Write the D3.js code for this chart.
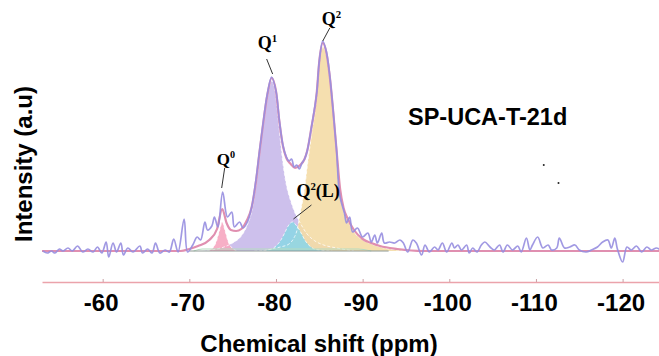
<!DOCTYPE html>
<html>
<head>
<meta charset="utf-8">
<script src="https://cdn.jsdelivr.net/npm/d3@7"></script>
<style>
  html, body { margin: 0; padding: 0; background: #ffffff; }
  svg { display: block; }
</style>
</head>
<body>
<svg id="chart" width="659" height="356"></svg>
<script>
// 29Si NMR spectrum of SP-UCA-T-21d with its deconvolution into Qn sites.
// Chemical shift in ppm, intensity in arbitrary units.

const xTicks = [-60, -70, -80, -90, -100, -110, -120];

// Measured spectrum [ppm, intensity]
const spectrum = [
  [-53.1, 0], [-53.6, -2], [-54.1, 0], [-54.5, -2], [-55.0, 2], [-55.4, 0], [-56.0, 3], [-56.5, 0],
  [-57.1, 5], [-57.7, -1], [-58.3, 2], [-58.9, -1], [-59.4, 4], [-59.9, -2], [-60.4, 9], [-60.7, -6],
  [-61.2, 8], [-61.6, -1], [-62.1, 8], [-62.4, -4], [-62.9, 3], [-63.5, -1], [-64.3, 5], [-64.6, -2],
  [-65.2, 2], [-65.7, -2], [-66.1, 8], [-66.6, -2], [-67.2, 1], [-67.7, -1], [-68.2, 12], [-68.7, -1],
  [-69.4, 32], [-69.8, -1], [-70.4, 6], [-70.9, 14], [-71.3, 11], [-71.8, 29], [-72.1, 21], [-72.6, 25],
  [-72.9, 34], [-73.3, 24], [-73.85, 59], [-74.4, 34], [-74.9, 39], [-75.2, 24], [-75.8, 29], [-76.2, 23],
  [-76.7, 29], [-77.2, 44], [-77.7, 72], [-78.1, 100], [-78.5, 127], [-79.0, 157], [-79.5, 174], [-80.0, 160],
  [-80.4, 130], [-80.8, 106], [-81.2, 94], [-81.5, 90], [-81.8, 92], [-82.1, 84], [-82.4, 86], [-82.7, 82],
  [-83.0, 88], [-83.3, 92], [-83.6, 100], [-84.1, 124], [-84.7, 158], [-85.0, 190], [-85.4, 210], [-85.8, 200],
  [-86.2, 176], [-86.6, 140], [-87.0, 100], [-87.35, 56], [-87.9, 38], [-88.15, 28], [-88.5, 34], [-88.85, 19],
  [-89.4, 23], [-90.0, 14], [-90.6, 18], [-91.0, 9], [-91.4, 16], [-91.7, 8], [-92.2, 18], [-92.5, 8],
  [-93.1, 9], [-93.7, 8], [-94.3, 11], [-94.7, 8], [-95.2, -1], [-95.8, 11], [-96.2, 8], [-96.8, -4],
  [-97.2, 6], [-97.7, -1], [-98.3, 4], [-98.7, 1], [-99.2, 8], [-99.7, -1], [-100.3, 8], [-100.6, 3],
  [-101.0, 6], [-101.4, 1], [-102.0, 6], [-102.3, -2], [-102.7, 3], [-103.2, -1], [-103.7, 6], [-104.1, 9],
  [-104.7, 4], [-105.2, 1], [-105.8, 6], [-106.2, -1], [-106.7, 6], [-107.3, 1], [-107.9, 5], [-108.3, -1],
  [-108.9, 13], [-109.3, 1], [-109.6, 6], [-110.2, 14], [-110.8, 3], [-111.4, 6], [-111.8, 1], [-112.4, 3],
  [-112.7, 13], [-113.3, 3], [-113.9, 4], [-114.5, 6], [-115.0, 1], [-115.8, -1], [-116.4, 1], [-117.1, 4],
  [-117.7, 9], [-118.3, 11], [-118.7, 3], [-119.1, 13], [-119.4, 2], [-120.0, -11], [-120.5, 4], [-121.0, 1],
  [-121.6, 5], [-122.2, -1], [-122.8, 4], [-123.3, 1], [-123.9, 3], [-124.4, 1]
];

// Sum of fitted components [ppm, intensity]
const fitSum = [
  [-53, 0], [-69, 0], [-70, 2], [-71, 5], [-72.3, 11], [-73.2, 22], [-73.8, 42], [-74.3, 28],
  [-74.8, 21], [-75.4, 20], [-76.0, 22], [-76.6, 30], [-77.2, 44], [-77.7, 70], [-78.1, 99], [-78.5, 126],
  [-79.0, 156], [-79.5, 173], [-80.0, 160], [-80.4, 129], [-80.8, 105], [-81.2, 93], [-81.7, 87], [-82.2, 83],
  [-82.8, 86], [-83.3, 92], [-83.6, 100], [-84.1, 124], [-84.7, 158], [-85.0, 190], [-85.4, 208], [-85.8, 199],
  [-86.2, 175], [-86.6, 140], [-87.0, 100], [-87.4, 62], [-87.8, 43], [-88.3, 32], [-89.0, 21], [-90.0, 12],
  [-91.0, 8], [-92.0, 5], [-94.0, 2], [-97.0, 0], [-124.3, 0]
];

// Fitted components [ppm, intensity]
const q0Band = [
  [-72.0, 0], [-72.6, 2], [-73.1, 9], [-73.5, 21], [-73.8, 29], [-74.1, 21], [-74.5, 9], [-75.0, 2.5], [-75.6, 0]
];
const q1Band = [
  [-71.5, 0], [-72.5, 1], [-74.0, 4], [-75.0, 8], [-76.0, 15], [-76.6, 24], [-77.2, 40], [-77.7, 67],
  [-78.1, 96], [-78.5, 124], [-79.0, 154], [-79.5, 170], [-80.0, 154], [-80.4, 120], [-80.8, 88], [-81.2, 66],
  [-81.7, 50], [-82.2, 38], [-82.8, 28], [-83.5, 18], [-84.5, 10], [-85.5, 6], [-87.0, 3], [-89.0, 0]
];
const q2Band = [
  [-78.5, 0], [-79.5, 2], [-80.5, 4], [-81.5, 7], [-82.0, 12], [-82.4, 20], [-82.8, 38], [-83.3, 62],
  [-83.6, 84], [-84.1, 116], [-84.7, 154], [-85.0, 186], [-85.4, 204], [-85.8, 196], [-86.2, 172], [-86.6, 138],
  [-87.0, 98], [-87.4, 60], [-87.8, 40], [-88.3, 30], [-89.0, 19], [-90.0, 11], [-91.0, 7], [-92.0, 4],
  [-94.0, 1], [-95.5, 0]
];
const q2LBand = [
  [-77.5, 0], [-79.0, 1], [-79.5, 2], [-80.0, 5], [-80.5, 10], [-81.0, 18], [-81.4, 25], [-81.9, 29],
  [-82.4, 25], [-82.9, 18], [-83.4, 10], [-83.9, 5], [-84.4, 2], [-85.0, 1], [-86.5, 0]
];
const baseComponent = [[-70.5, 0], [-71.5, 2], [-89.5, 2], [-91, 0]];

// Peak assignments: label, superscript, suffix, anchor [ppm, intensity]
const peakNames = ["Q0", "Q1", "Q2", "Q2L"];
const peakSup = ["0", "1", "2", "2"];
const peakSuffix = ["", "", "", "(L)"];
const peakAnchor = [[-73.85, 59], [-79.5, 174], [-85.4, 210], [-81.9, 29]];

const sampleName = "SP-UCA-T-21d";
const xTitle = "Chemical shift (ppm)";
const yTitle = "Intensity (a.u)";

// ---------------------------------------------------------------------------
const svg = d3.select("#chart");

const x = d3.scaleLinear().domain([-53, -124.2]).range([42, 659]);
const y = d3.scaleLinear().domain([0, 208]).range([251, 43]);

const fills = {
  Q1: "#c8b9ea",
  Q2: "#f4dba6",
  Q2L: "#8ed5e6",
  Q0: "#f6a6c0"
};

const area = d3.area()
  .x(d => x(d[0])).y0(y(0)).y1(d => y(d[1]))
  .curve(d3.curveMonotoneX);
const lineSmooth = d3.line()
  .x(d => x(d[0])).y(d => y(d[1]))
  .curve(d3.curveMonotoneX);
const lineNoisy = d3.line()
  .x(d => x(d[0])).y(d => y(d[1]))
  .curve(d3.curveCatmullRom.alpha(0.5));

const bands = [
  { key: "Q1", data: q1Band },
  { key: "Q2", data: q2Band },
  { key: "Q2L", data: q2LBand },
  { key: "Q0", data: q0Band }
];

const gBands = svg.append("g");
gBands.selectAll("path.band")
  .data(bands)
  .join("path")
  .attr("class", "band")
  .attr("d", d => area(d.data))
  .attr("fill", d => fills[d.key])
  .attr("fill-opacity", 0.9);

// dashed outlines of the fitted components
gBands.selectAll("path.outline")
  .data(bands)
  .join("path")
  .attr("class", "outline")
  .attr("d", d => lineSmooth(d.data))
  .attr("fill", "none")
  .attr("stroke", "#ffffff")
  .attr("stroke-width", 1)
  .attr("stroke-dasharray", "3,2")
  .attr("stroke-opacity", 0.75);

// broad baseline component and zero line under the fitted region
svg.append("path")
  .attr("d", lineSmooth(baseComponent))
  .attr("fill", "none")
  .attr("stroke", "#b5dcc0")
  .attr("stroke-width", 1.2);
svg.append("line")
  .attr("x1", x(-70)).attr("x2", x(-93))
  .attr("y1", y(0)).attr("y2", y(0))
  .attr("stroke", "#8d9892")
  .attr("stroke-width", 1);

// fitted envelope
svg.append("path")
  .attr("d", lineSmooth(fitSum))
  .attr("fill", "none")
  .attr("stroke", "#e08fb0")
  .attr("stroke-width", 2.2);

// measured spectrum
svg.append("path")
  .attr("d", lineNoisy(spectrum))
  .attr("fill", "none")
  .attr("stroke", "#978ee0")
  .attr("stroke-width", 1.7)
  .attr("stroke-opacity", 0.9);

// x axis
const axisY = 282;
const axis = d3.axisBottom(x)
  .tickValues(xTicks)
  .tickFormat(d => String(d))
  .tickSizeInner(-3)
  .tickSizeOuter(0)
  .tickPadding(12);

const gAxis = svg.append("g")
  .attr("transform", `translate(0,${axisY})`)
  .call(axis);
gAxis.select(".domain")
  .attr("stroke", "#eba3ab")
  .attr("stroke-width", 1.6);
gAxis.selectAll(".tick line")
  .attr("stroke", "#c9a0a4");
gAxis.selectAll(".tick text")
  .attr("fill", "#000")
  .attr("font-family", "Liberation Sans, Arial, sans-serif")
  .attr("font-weight", "bold")
  .attr("font-size", 24)
  .attr("dx", -2);

// axis titles
svg.append("text")
  .attr("x", 319).attr("y", 352)
  .attr("text-anchor", "middle")
  .attr("font-family", "Liberation Sans, Arial, sans-serif")
  .attr("font-weight", "bold")
  .attr("font-size", 24)
  .attr("fill", "#000")
  .text(xTitle);

svg.append("text")
  .attr("transform", "translate(32,164) rotate(-90)")
  .attr("text-anchor", "middle")
  .attr("font-family", "Liberation Sans, Arial, sans-serif")
  .attr("font-weight", "bold")
  .attr("font-size", 24)
  .attr("fill", "#000")
  .text(yTitle);

// sample name
svg.append("text")
  .attr("x", 408).attr("y", 125)
  .attr("font-family", "Liberation Sans, Arial, sans-serif")
  .attr("font-weight", "bold")
  .attr("font-size", 23.5)
  .attr("fill", "#000")
  .text(sampleName);

// peak labels with leader lines (offsets in px from the anchor point)
const labelLayout = {
  Q0:  { l0: [-1, -4], l1: [2, -24], t: [-6, -27], size: 17 },
  Q1:  { l0: [1, -3], l1: [-5, -18], t: [-14, -28], size: 18 },
  Q2:  { l0: [0, 0], l1: [7, -13], t: [-1, -16], size: 18 },
  Q2L: { l0: [1, -3], l1: [19, -17], t: [4, -25], size: 18 }
};

const gLabels = svg.append("g");
peakNames.forEach((name, i) => {
  const ax = x(peakAnchor[i][0]);
  const ay = y(peakAnchor[i][1]);
  const L = labelLayout[name];
  gLabels.append("line")
    .attr("x1", ax + L.l0[0]).attr("y1", ay + L.l0[1])
    .attr("x2", ax + L.l1[0]).attr("y2", ay + L.l1[1])
    .attr("stroke", "#333")
    .attr("stroke-width", 1);
  const t = gLabels.append("text")
    .attr("x", ax + L.t[0]).attr("y", ay + L.t[1])
    .attr("font-family", "Liberation Serif, Times New Roman, serif")
    .attr("font-weight", "bold")
    .attr("font-size", L.size)
    .attr("fill", "#000");
  t.append("tspan").text("Q");
  t.append("tspan")
    .attr("font-size", L.size * 0.6)
    .attr("dy", -L.size * 0.4)
    .text(peakSup[i]);
  if (peakSuffix[i]) {
    t.append("tspan")
      .attr("dy", L.size * 0.4)
      .text(peakSuffix[i]);
  }
});

// two small specks in the upper right
const specks = [[-110.9, 86], [-112.6, 68]];
svg.selectAll("circle.speck")
  .data(specks)
  .join("circle")
  .attr("class", "speck")
  .attr("cx", d => x(d[0])).attr("cy", d => y(d[1]))
  .attr("r", 1)
  .attr("fill", "#222");
</script>
</body>
</html>
